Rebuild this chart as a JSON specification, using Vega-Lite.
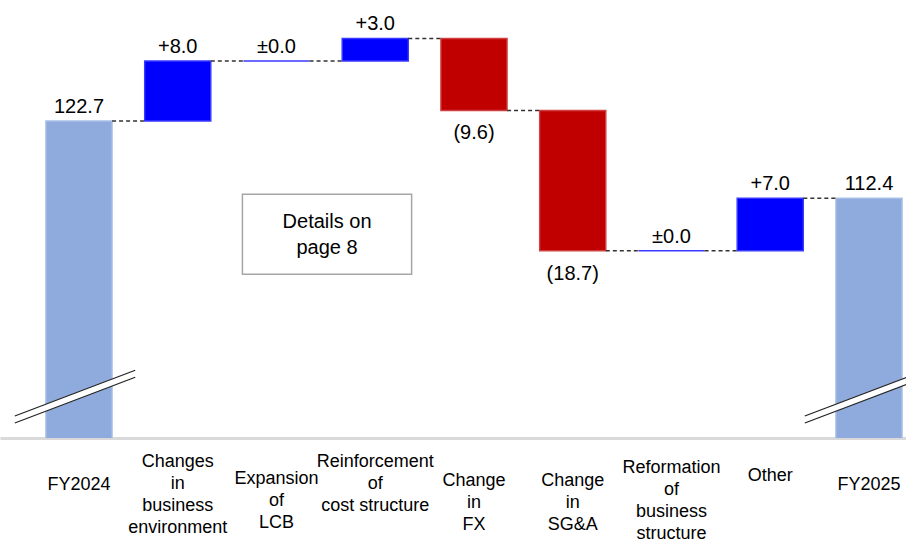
{
  "$schema": "https://vega.github.io/schema/vega-lite/v6.json",
  "width": 906,
  "height": 438,
  "autosize": {"type": "none"},
  "padding": {"left": 0, "right": 0, "top": 0, "bottom": 103},
  "background": "white",
  "config": {"view": {"stroke": null}, "font": "Liberation Sans"},
  "datasets": {
    "steps": [
      {"cat": "FY2024", "kind": "total", "start": 0, "end": 122.7, "label": "122.7", "next": "Changes in business environment"},
      {"cat": "Changes in business environment", "kind": "up", "start": 122.7, "end": 130.7, "label": "+8.0", "next": "Expansion of LCB"},
      {"cat": "Expansion of LCB", "kind": "up", "start": 130.7, "end": 130.7, "label": "±0.0", "next": "Reinforcement of cost structure"},
      {"cat": "Reinforcement of cost structure", "kind": "up", "start": 130.7, "end": 133.7, "label": "+3.0", "next": "Change in FX"},
      {"cat": "Change in FX", "kind": "down", "start": 133.7, "end": 124.1, "label": "(9.6)", "next": "Change in SG&A"},
      {"cat": "Change in SG&A", "kind": "down", "start": 124.1, "end": 105.4, "label": "(18.7)", "next": "Reformation of business structure"},
      {"cat": "Reformation of business structure", "kind": "up", "start": 105.4, "end": 105.4, "label": "±0.0", "next": "Other"},
      {"cat": "Other", "kind": "up", "start": 105.4, "end": 112.4, "label": "+7.0", "next": "FY2025"},
      {"cat": "FY2025", "kind": "total", "start": 0, "end": 112.4, "label": "112.4", "next": null}
    ],
    "breaks": [
      {"cat": "FY2024", "low": 82.9, "high": 89.0},
      {"cat": "FY2025", "low": 82.9, "high": 89.0}
    ],
    "notes": [
      {"from": "Expansion of LCB", "to": "Reinforcement of cost structure", "top": 112.93, "bottom": 102.26, "mid": 109.2, "text": "Details on\npage 8"}
    ]
  },
  "layer": [
    {
      "data": {"name": "steps"},
      "mark": {"type": "bar", "clip": true, "strokeWidth": 1.4},
      "encoding": {
        "x": {
          "field": "cat", "type": "nominal",
          "scale": {
            "domain": ["FY2024", "Changes in business environment", "Expansion of LCB", "Reinforcement of cost structure", "Change in FX", "Change in SG&A", "Reformation of business structure", "Other", "FY2025"],
            "paddingInner": 0.33, "paddingOuter": 0.2524, "align": 0.921, "round": false
          },
          "axis": {
            "title": null, "labelAngle": 0, "ticks": false,
            "domainColor": "#d9d9d9", "domainWidth": 3,
            "labelFont": "Liberation Sans", "labelFontSize": 18, "labelColor": "#000000",
            "labelLineHeight": 22, "labelBaseline": "middle", "labelLimit": 0, "labelOverlap": false,
            "labelPadding": {"condition": [
              {"test": "indexof(['Changes in business environment','Reinforcement of cost structure'], datum.value) >= 0", "value": 23.5},
              {"test": "datum.value === 'Reformation of business structure'", "value": 29},
              {"test": "datum.value === 'Other'", "value": 37},
              {"test": "datum.value === 'Expansion of LCB'", "value": 40},
              {"test": "indexof(['Change in FX','Change in SG&A'], datum.value) >= 0", "value": 42}
            ], "value": 46},
            "labelExpr": "datum.value == 'Reinforcement of cost structure' ? ['Reinforcement','of','cost structure'] : split(datum.value, ' ')"
          }
        },
        "y": {"field": "end", "type": "quantitative", "scale": {"domain": [80.43, 138.83], "zero": false, "nice": false}, "axis": null},
        "y2": {"field": "start"},
        "color": {"field": "kind", "type": "nominal", "scale": {"domain": ["total", "up", "down"], "range": ["#8faadc", "#0000ff", "#c00000"]}, "legend": null},
        "stroke": {"field": "kind", "type": "nominal", "scale": {"domain": ["total", "up", "down"], "range": ["#a9bfe6", "#3a3aff", "#d04040"]}, "legend": null}
      }
    },
    {
      "data": {"name": "steps"},
      "transform": [{"filter": "datum.next != null"}],
      "mark": {"type": "rule", "strokeDash": [4, 3], "color": "#333333", "strokeWidth": 1.4},
      "encoding": {
        "x": {"field": "cat", "type": "nominal", "bandPosition": 1},
        "x2": {"field": "next", "bandPosition": 0},
        "y": {"field": "end", "type": "quantitative"}
      }
    },
    {
      "data": {"name": "breaks"},
      "mark": {"type": "rule", "color": "white", "strokeWidth": 7},
      "encoding": {
        "x": {"field": "cat", "type": "nominal", "bandPosition": -0.47},
        "x2": {"field": "cat", "bandPosition": 1.35},
        "y": {"field": "low", "type": "quantitative"},
        "y2": {"field": "high"}
      }
    },
    {
      "data": {"name": "breaks"},
      "mark": {"type": "rule", "color": "#222222", "strokeWidth": 1.2, "yOffset": -3.5, "y2Offset": -3.5},
      "encoding": {
        "x": {"field": "cat", "type": "nominal", "bandPosition": -0.47},
        "x2": {"field": "cat", "bandPosition": 1.35},
        "y": {"field": "low", "type": "quantitative"},
        "y2": {"field": "high"}
      }
    },
    {
      "data": {"name": "breaks"},
      "mark": {"type": "rule", "color": "#222222", "strokeWidth": 1.2, "yOffset": 3.5, "y2Offset": 3.5},
      "encoding": {
        "x": {"field": "cat", "type": "nominal", "bandPosition": -0.47},
        "x2": {"field": "cat", "bandPosition": 1.35},
        "y": {"field": "low", "type": "quantitative"},
        "y2": {"field": "high"}
      }
    },
    {
      "data": {"name": "notes"},
      "mark": {"type": "rect", "fill": "white", "stroke": "#a6a6a6", "strokeWidth": 1.5},
      "encoding": {
        "x": {"field": "from", "type": "nominal", "bandPosition": -0.015},
        "x2": {"field": "to", "bandPosition": 1.05},
        "y": {"field": "top", "type": "quantitative"},
        "y2": {"field": "bottom"}
      }
    },
    {
      "data": {"name": "notes"},
      "mark": {"type": "text", "fontSize": 20, "lineBreak": "\n", "lineHeight": 26, "baseline": "middle", "align": "center", "color": "#000000"},
      "encoding": {
        "x": {"field": "from", "type": "nominal", "bandPosition": 1.264},
        "y": {"field": "mid", "type": "quantitative"},
        "text": {"field": "text"}
      }
    },
    {
      "data": {"name": "steps"},
      "transform": [{"filter": "datum.kind != 'down'"}],
      "mark": {"type": "text", "fontSize": 20, "baseline": "alphabetic", "dy": -8, "align": "center", "color": "#000000"},
      "encoding": {
        "x": {"field": "cat", "type": "nominal"},
        "y": {"field": "end", "type": "quantitative"},
        "text": {"field": "label"}
      }
    },
    {
      "data": {"name": "steps"},
      "transform": [{"filter": "datum.kind == 'down'"}],
      "mark": {"type": "text", "fontSize": 20, "baseline": "alphabetic", "dy": 29, "align": "center", "color": "#000000"},
      "encoding": {
        "x": {"field": "cat", "type": "nominal"},
        "y": {"field": "end", "type": "quantitative"},
        "text": {"field": "label"}
      }
    }
  ]
}
